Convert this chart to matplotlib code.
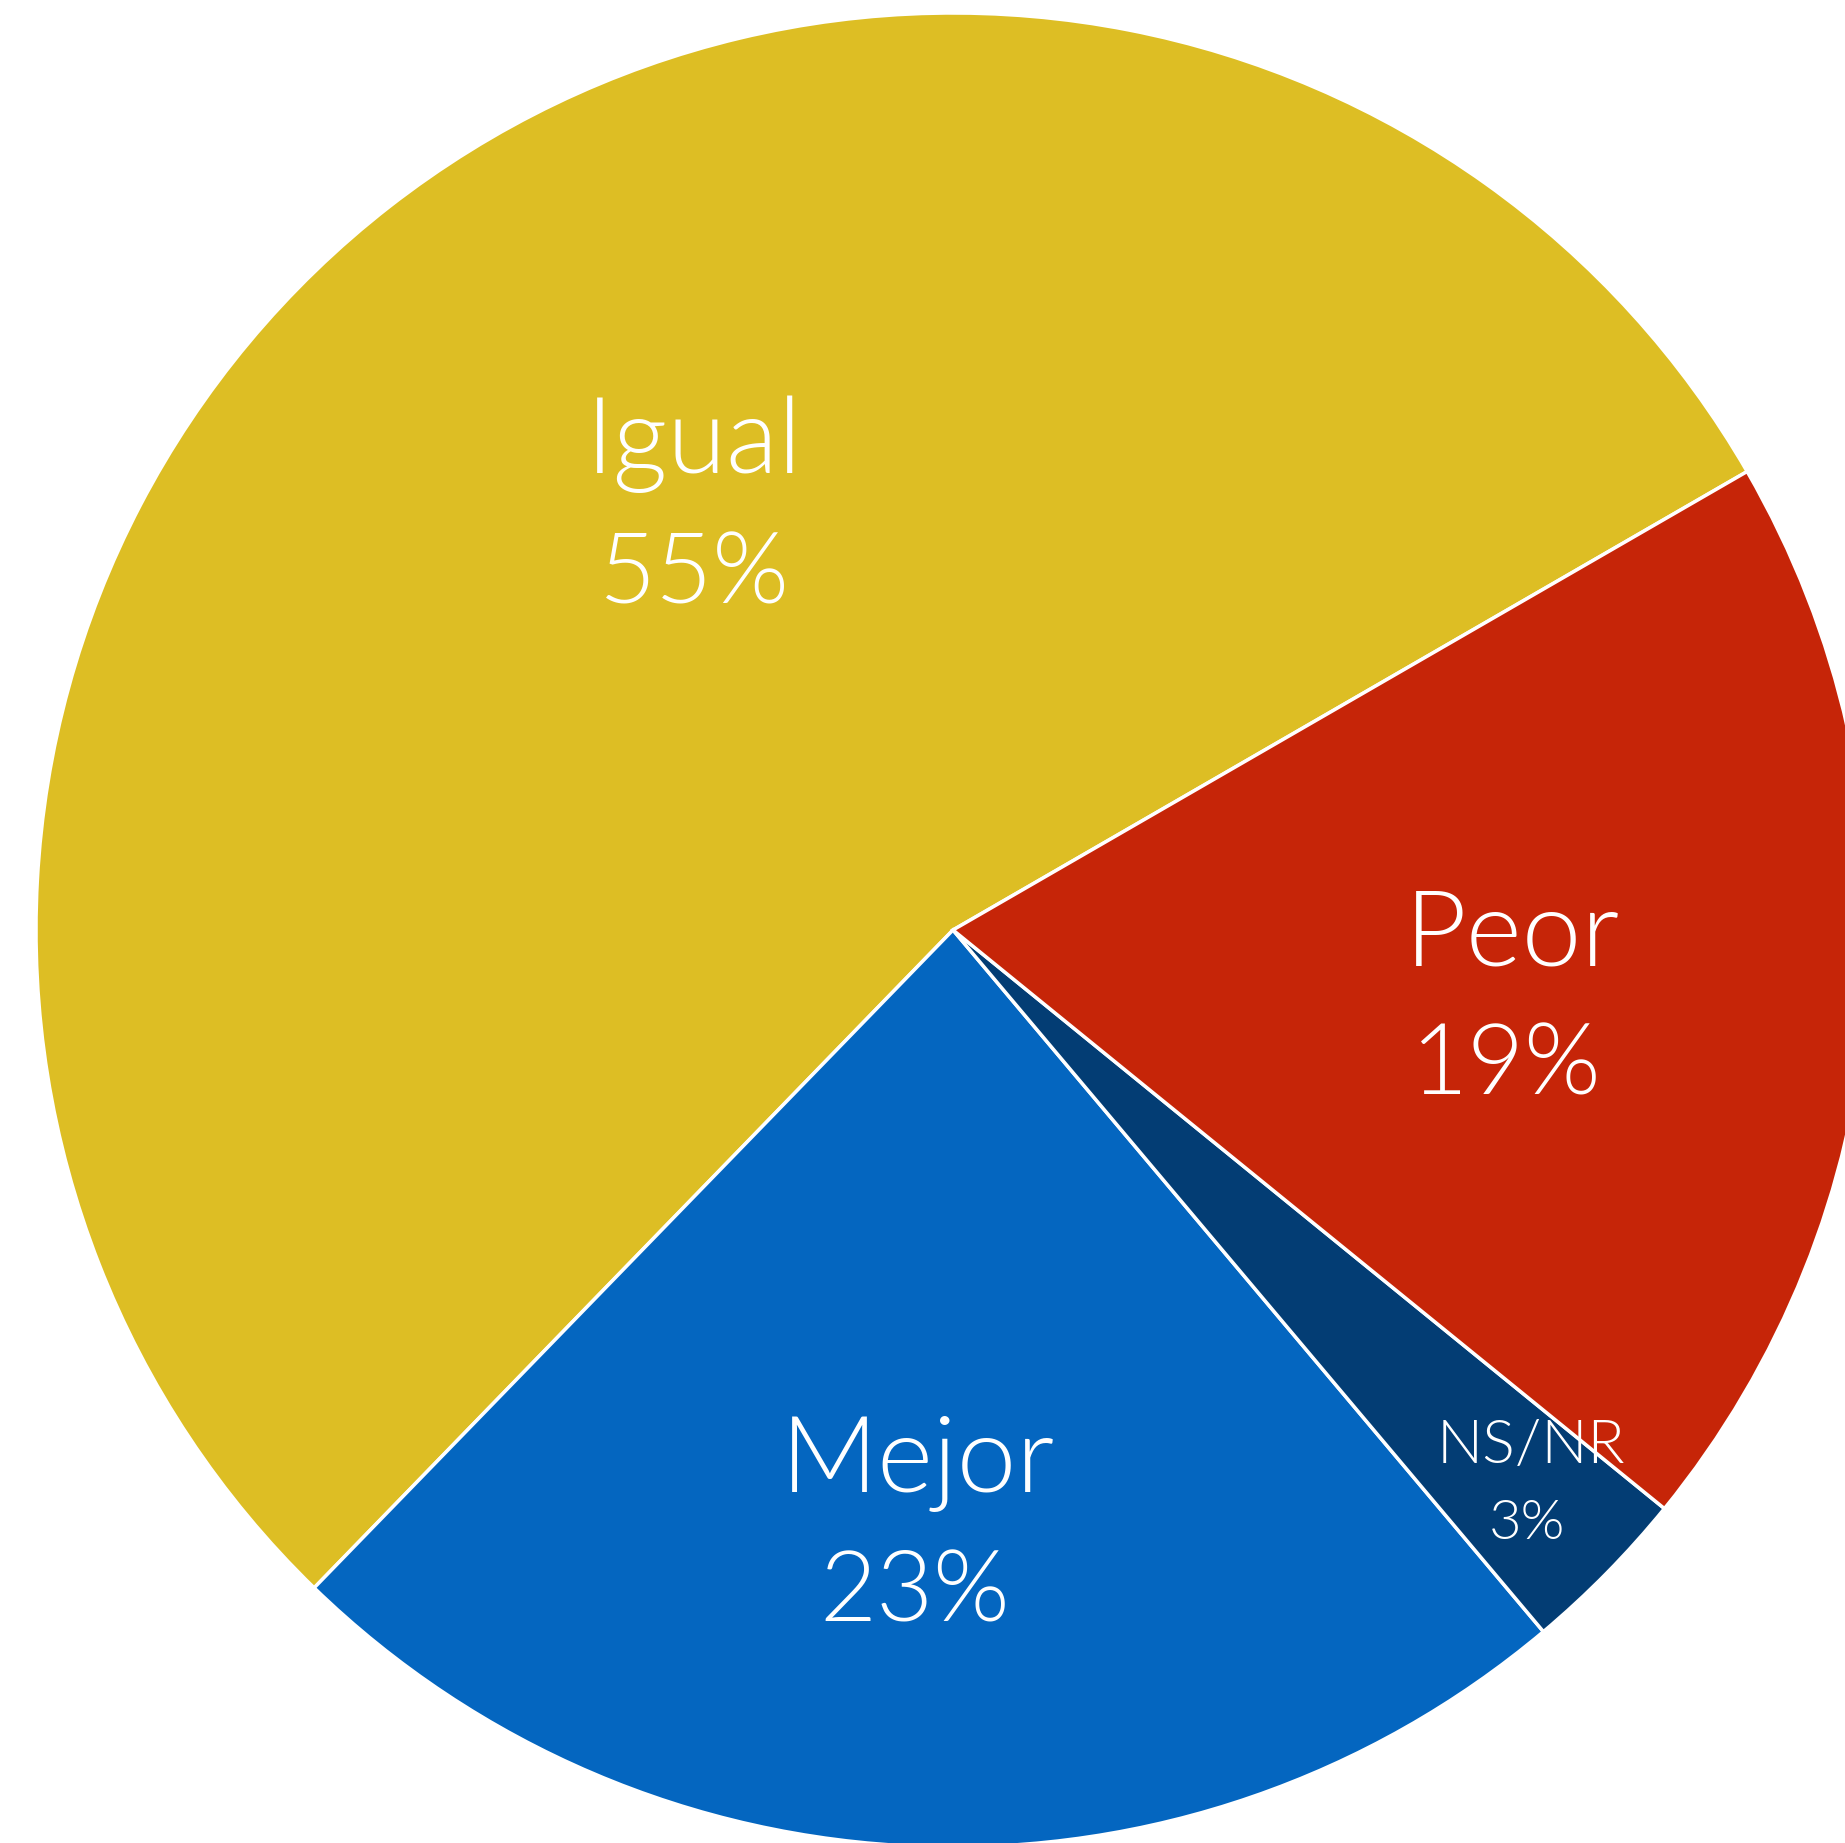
import matplotlib.pyplot as plt

categories = ["Igual", "Mejor", "NS/NR", "Peor"]
values = [54.4, 23.4, 3.0, 19.2]
pct_labels = ["55%", "23%", "3%", "19%"]
colors = ["#DDBE24", "#0466C0", "#033D74", "#C62508"]

# label placement (data units, pie radius = 1)
name_pos = [(-0.282, 0.530), (-0.038, -0.582), (0.630, -0.563), (0.610, -0.006)]
pct_pos = [(-0.282, 0.386), (-0.042, -0.724), (0.626, -0.648), (0.603, -0.150)]
sizes = [77, 77, 44, 77]

fig = plt.figure(figsize=(18.45, 18.43), dpi=100)
ax = fig.add_axes([0, 0, 1, 1])

ax.pie(values, colors=colors, startangle=30, counterclock=True,
       wedgeprops=dict(edgecolor="white", linewidth=2.5))

for name, pct, (nx, ny), (px, py), fs in zip(categories, pct_labels, name_pos, pct_pos, sizes):
    ax.text(nx, ny, name, color="white", fontsize=fs, ha="center", va="center",
            family="Lato", fontweight=300)
    ax.text(px, py, pct, color="white", fontsize=fs * 0.92, ha="center", va="center",
            family="Lato", fontweight=300)

ax.set_aspect("auto")
ax.set_xlim(-953 / 917, (1845 - 953) / 917)
ax.set_ylim(-(1843 - 930) / 917, 930 / 917)
ax.axis("off")

fig.savefig("out.png", dpi=100, facecolor="white")
